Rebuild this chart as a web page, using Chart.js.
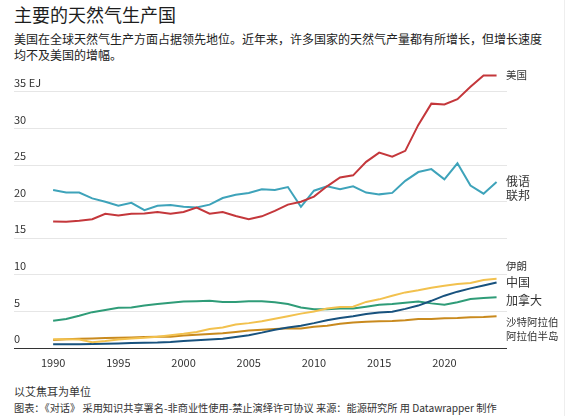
<!DOCTYPE html>
<html lang="zh">
<head>
<meta charset="utf-8">
<script src="https://cdn.jsdelivr.net/npm/chart.js@4.4.1/dist/chart.umd.min.js"></script>
<style>
  body { margin: 0; background: #fff; font-family: "Noto Sans CJK SC", "Noto Sans", sans-serif; color: #222; }
  #wrap { position: relative; width: 579px; height: 416px; overflow: hidden; }
  #frame { position: absolute; left: 564px; top: 0; width: 1px; height: 416px; background: #eeeeee; }
  .txt { position: absolute; left: 14px; white-space: nowrap; }
  #titulo { top: 4px; font-size: 18px; line-height: 20px; color: #1d1d1d; }
  #sub { top: 31px; font-size: 12px; line-height: 16px; width: 535px; white-space: normal; color: #222; }
  #unidad { top: 383px; font-size: 11px; line-height: 16px; color: #333; }
  #fuente { top: 400px; font-size: 10.2px; line-height: 16px; color: #333; }
  canvas { position: absolute; left: 0; top: 60px; }
</style>
</head>
<body>
<div id="wrap">
  <div id="frame"></div>
  <div class="txt" id="titulo">主要的天然气生产国</div>
  <div class="txt" id="sub">美国在全球天然气生产方面占据领先地位。近年来，许多国家的天然气产量都有所增长，但增长速度均不及美国的增幅。</div>
  <canvas id="myChart" width="579" height="312"></canvas>
  <div class="txt" id="unidad">以艾焦耳为单位</div>
  <div class="txt" id="fuente">图表：《对话》 采用知识共享署名-非商业性使用-禁止演绎许可协议 来源：能源研究所 用 Datawrapper 制作</div>
</div>

<script>
// datos (EJ)
const years = [1990, 1991, 1992, 1993, 1994, 1995, 1996, 1997, 1998, 1999,
  2000, 2001, 2002, 2003, 2004, 2005, 2006, 2007, 2008, 2009,
  2010, 2011, 2012, 2013, 2014, 2015, 2016, 2017, 2018, 2019,
  2020, 2021, 2022, 2023, 2024];

const usa = [17.3, 17.25, 17.4, 17.6, 18.35, 18.1, 18.35, 18.4, 18.6, 18.35,
  18.6, 19.2, 18.35, 18.6, 18.05, 17.6, 18.0, 18.75, 19.6, 20.0,
  20.7, 22.1, 23.3, 23.6, 25.45, 26.7, 26.15, 26.95, 30.5, 33.4,
  33.3, 34.0, 35.7, 37.25, 37.25];

const russia = [21.6, 21.25, 21.25, 20.45, 20.0, 19.45, 19.85, 18.85, 19.45, 19.55,
  19.3, 19.2, 19.6, 20.5, 20.95, 21.2, 21.7, 21.6, 22.0, 19.3,
  21.5, 22.1, 21.7, 22.1, 21.25, 21.0, 21.2, 22.85, 24.05, 24.45,
  23.05, 25.25, 22.2, 21.1, 22.7];

const iran = [1.2, 1.2, 1.15, 0.8, 0.95, 1.15, 1.3, 1.4, 1.55, 1.75,
  1.95, 2.2, 2.6, 2.8, 3.2, 3.4, 3.65, 4.0, 4.35, 4.7,
  5.0, 5.4, 5.6, 5.65, 6.3, 6.65, 7.15, 7.6, 7.9, 8.25,
  8.5, 8.75, 8.9, 9.3, 9.45];

const china = [0.5, 0.52, 0.52, 0.55, 0.58, 0.62, 0.68, 0.72, 0.75, 0.82,
  0.95, 1.05, 1.15, 1.25, 1.5, 1.75, 2.1, 2.5, 2.8, 3.05,
  3.4, 3.8, 4.1, 4.35, 4.65, 4.85, 4.95, 5.35, 5.8, 6.45,
  7.15, 7.7, 8.15, 8.55, 8.95];

const canada = [3.73, 3.96, 4.4, 4.9, 5.2, 5.5, 5.55, 5.8, 6.0, 6.2,
  6.35, 6.4, 6.45, 6.3, 6.3, 6.4, 6.4, 6.25, 6.0, 5.55,
  5.3, 5.3, 5.4, 5.4, 5.65, 5.9, 6.0, 6.2, 6.35, 6.1,
  5.9, 6.25, 6.7, 6.85, 6.95];

const saudi = [1.1, 1.2, 1.25, 1.3, 1.35, 1.4, 1.45, 1.5, 1.55, 1.55,
  1.7, 1.8, 1.9, 2.0, 2.2, 2.4, 2.5, 2.6, 2.7, 2.65,
  2.9, 3.05, 3.3, 3.5, 3.6, 3.65, 3.7, 3.8, 3.95, 3.95,
  4.05, 4.1, 4.2, 4.25, 4.35];

const seriesNames = [["美国"], ["俄语", "联邦"], ["伊朗"], ["中国"], ["加拿大"], ["沙特阿拉伯", "阿拉伯半岛"]];
const xTicks = [1990, 1995, 2000, 2005, 2010, 2015, 2020];
const yTicks = [0, 5, 10, 15, 20, 25, 30, 35];

const ctx = document.getElementById('myChart');

// estilo de cada serie (color, ajuste de etiqueta)
const colores = ['#c4373b', '#3ea3ba', '#f2c14e', '#18527e', '#2f9c78', '#c98a1e'];
const etiquetaAjuste = [0, 0, -13, 0, 3, 6];
const etiquetaTam = [10.5, 12, 10.5, 12, 12, 10.5];

function puntos(valores) {
    return years.map((y, i) => {
        return { x: y, y: valores[i] };
    });
}

const allSeries = [usa, russia, iran, china, canada, saudi];

// etiquetas al final de cada linea
const endLabels = {
    id: 'endLabels',
    afterDatasetsDraw(chart) {
        const c = chart.ctx;
        const right = chart.chartArea.right;
        c.save();
        c.fillStyle = '#333';
        c.textAlign = 'left';
        c.textBaseline = 'middle';
        chart.data.datasets.forEach((ds, i) => {
            const meta = chart.getDatasetMeta(i);
            const last = meta.data[meta.data.length - 1];
            const y0 = last.y + etiquetaAjuste[i];
            c.font = etiquetaTam[i] + 'px "Noto Sans CJK SC"';
            seriesNames[i].forEach((t, k) => {
                c.fillText(t, right - 1, y0 + k * 14);
            });
        });
        c.restore();
    }
};

new Chart(ctx, {
    type: 'line',
    data: {
        datasets: allSeries.map((s, i) => {
            return {
                label: seriesNames[i].join(''),
                data: puntos(s),
                borderColor: colores[i],
                borderWidth: 2,
                pointRadius: 0,
                tension: 0
            };
        })
    },
    options: {
        responsive: false,
        devicePixelRatio: 1,
        animation: false,
        layout: { padding: { left: 14, right: 72, top: 10, bottom: 0 } },
        plugins: { legend: { display: false }, tooltip: { enabled: false } },
        scales: {
            x: {
                type: 'linear',
                min: 1987,
                max: 2024.8,
                afterBuildTicks: (scale) => { scale.ticks = xTicks.map(v => ({ value: v })); },
                afterFit: (scale) => { scale.height = 24; },
                grid: { display: false, drawTicks: false },
                border: { display: false },
                ticks: {
                    padding: 8,
                    color: '#333',
                    font: { size: 11, family: '"Noto Sans CJK SC"' },
                    callback: (v) => String(v)
                }
            },
            y: {
                min: 0,
                max: 38,
                afterBuildTicks: (scale) => { scale.ticks = yTicks.map(v => ({ value: v })); },
                afterFit: (scale) => { scale.width = 0; },
                grid: {
                    drawTicks: false,
                    color: (c) => c.tick && c.tick.value === 0 ? '#333' : '#e6e6e6',
                    lineWidth: 1
                },
                border: { display: false },
                ticks: {
                    mirror: true,
                    padding: 0,
                    labelOffset: -9,
                    color: '#333',
                    font: { size: 11, family: '"Noto Sans CJK SC"' },
                    callback: (v) => v === 35 ? '35 EJ' : String(v)
                }
            }
        }
    },
    plugins: [endLabels]
});
</script>
</body>
</html>
